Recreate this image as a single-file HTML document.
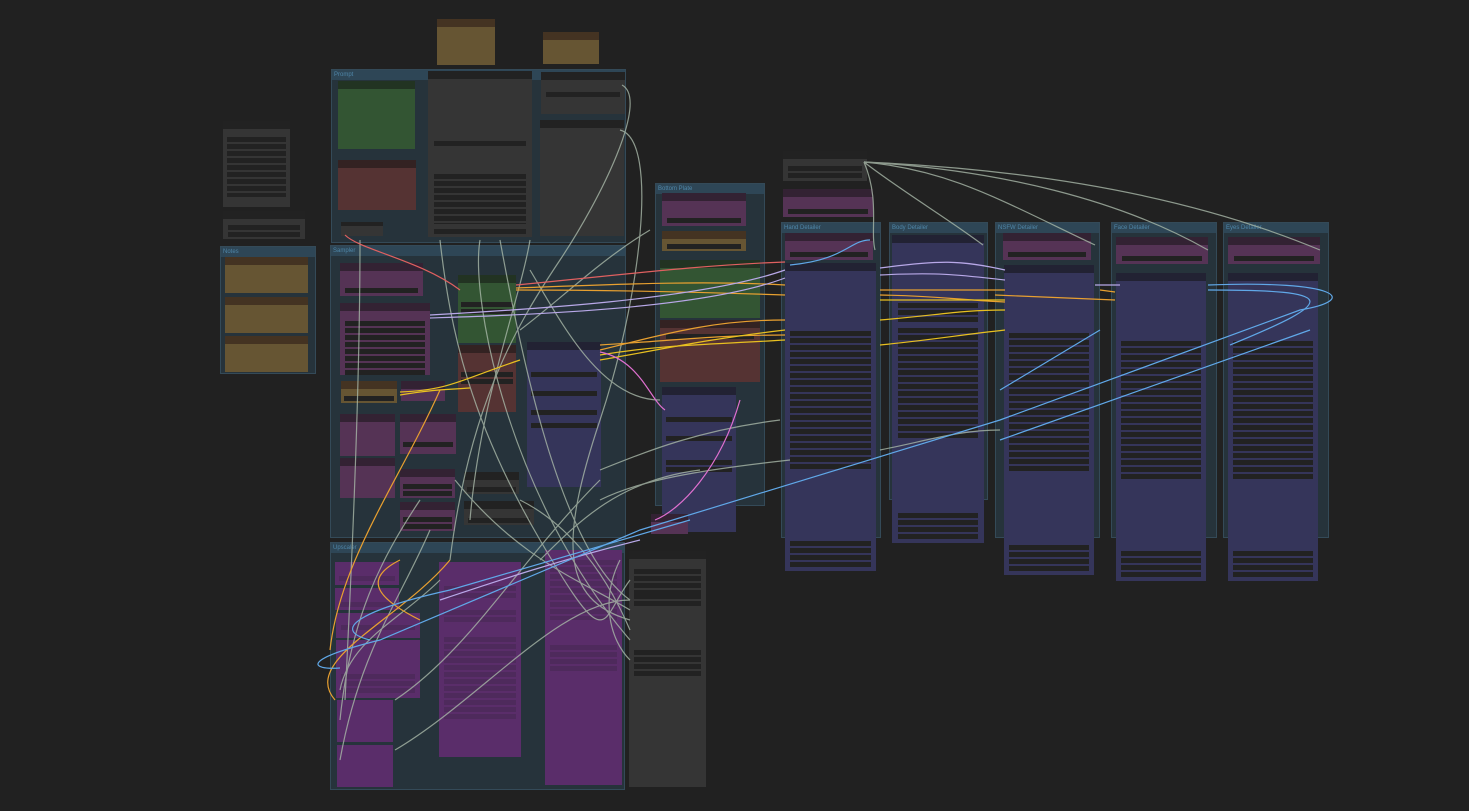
<!DOCTYPE html>
<html><head><meta charset="utf-8"><style>
body{margin:0;width:1469px;height:811px;background:#212121;overflow:hidden;position:relative;font-family:"Liberation Sans",sans-serif}
.g{position:absolute;background:#26333b;border:1px solid #344a58;box-sizing:border-box}
.g>span{display:block;height:10px;background:#2e4656;color:#4f86a8;font-size:6px;line-height:10px;padding-left:2px}
.n{position:absolute;box-sizing:border-box;border-top:8px solid rgba(0,0,0,.35)}
.d{background:#353535}.gr{background:#335533;border-top-color:#223322}.r{background:#553333;border-top-color:#332222}
.p{background:#553355;border-top-color:#332233}.b{background:#35355a;border-top-color:#222233}.y{background:#665533;border-top-color:#443322}
.u{background:#5a2d6a;border-top-width:0}
.w{position:absolute;left:6%;right:6%;height:5px;background:#222}
.rows{position:absolute;left:6%;right:6%;background:repeating-linear-gradient(#222 0 5px,transparent 5px 7px)}
.ur{position:absolute;left:6%;right:6%;background:repeating-linear-gradient(#4e2a5c 0 5px,transparent 5px 7px)}
svg{position:absolute;left:0;top:0}
</style></head><body>

<div class="n y" style="left:437px;top:19px;width:58px;height:46px"></div>
<div class="n y" style="left:543px;top:32px;width:56px;height:32px"></div>
<div class="n d" style="left:223px;top:121px;width:67px;height:86px"><div class="rows" style="top:8px;height:60px"></div></div>
<div class="n d" style="left:223px;top:211px;width:82px;height:28px"><div class="rows" style="top:6px;height:12px"></div></div>

<div class="g" style="left:220px;top:246px;width:96px;height:128px"><span>Notes</span></div>
<div class="n y" style="left:225px;top:257px;width:83px;height:36px"></div>
<div class="n y" style="left:225px;top:297px;width:83px;height:36px"></div>
<div class="n y" style="left:225px;top:336px;width:83px;height:36px"></div>

<div class="g" style="left:331px;top:69px;width:295px;height:174px"><span>Prompt</span></div>
<div class="n gr" style="left:338px;top:81px;width:77px;height:68px"></div>
<div class="n r" style="left:338px;top:160px;width:78px;height:50px"></div>
<div class="n d" style="left:428px;top:71px;width:104px;height:166px"><div class="w" style="top:62px"></div><div class="rows" style="top:95px;height:50px"></div><div class="w" style="top:150px"></div></div>
<div class="n d" style="left:541px;top:72px;width:84px;height:42px"><div class="w" style="top:12px"></div></div>
<div class="n d" style="left:540px;top:120px;width:84px;height:116px"></div>
<div class="n d" style="left:341px;top:222px;width:42px;height:14px;border-top-width:4px"></div>

<div class="g" style="left:330px;top:245px;width:296px;height:293px"><span>Sampler</span></div>
<div class="n p" style="left:340px;top:263px;width:83px;height:33px"><div class="w" style="top:17px"></div></div>
<div class="n p" style="left:340px;top:303px;width:90px;height:72px"><div class="rows" style="top:10px;height:54px"></div></div>
<div class="n y" style="left:341px;top:381px;width:56px;height:22px"><div class="w" style="top:7px"></div></div>
<div class="n p" style="left:401px;top:381px;width:44px;height:20px"></div>
<div class="n p" style="left:340px;top:414px;width:55px;height:42px"></div>
<div class="n p" style="left:400px;top:414px;width:56px;height:40px"><div class="w" style="top:20px"></div></div>
<div class="n p" style="left:340px;top:458px;width:55px;height:40px"></div>
<div class="n p" style="left:400px;top:469px;width:55px;height:29px"><div class="rows" style="top:7px;height:12px"></div></div>
<div class="n p" style="left:400px;top:502px;width:55px;height:29px"><div class="rows" style="top:7px;height:12px"></div></div>
<div class="n gr" style="left:458px;top:275px;width:58px;height:68px"><div class="rows" style="top:19px;height:12px"></div></div>
<div class="n r" style="left:458px;top:345px;width:58px;height:67px"><div class="rows" style="top:19px;height:12px"></div></div>
<div class="n d" style="left:464px;top:472px;width:55px;height:22px"><div class="w" style="top:7px"></div></div>
<div class="n d" style="left:464px;top:501px;width:70px;height:24px"><div class="w" style="top:9px"></div></div>
<div class="n b" style="left:527px;top:342px;width:74px;height:145px"><div class="w" style="top:22px"></div><div class="w" style="top:41px"></div><div class="w" style="top:60px"></div><div class="w" style="top:73px"></div></div>

<div class="g" style="left:655px;top:183px;width:110px;height:323px"><span>Bottom Plate</span></div>
<div class="n p" style="left:662px;top:193px;width:84px;height:33px"><div class="w" style="top:17px"></div></div>
<div class="n y" style="left:662px;top:231px;width:84px;height:20px"><div class="w" style="top:5px"></div></div>
<div class="n gr" style="left:660px;top:260px;width:100px;height:58px"></div>
<div class="n r" style="left:660px;top:320px;width:100px;height:62px"><div class="w" style="top:6px"></div></div>
<div class="n b" style="left:662px;top:387px;width:74px;height:145px"><div class="w" style="top:22px"></div><div class="w" style="top:41px"></div><div class="rows" style="top:65px;height:12px"></div></div>
<div class="n p" style="left:651px;top:514px;width:37px;height:20px"></div>

<div class="g" style="left:330px;top:542px;width:295px;height:248px"><span>Upscaler</span></div>
<div class="n u" style="left:335px;top:562px;width:64px;height:23px"><div class="ur" style="top:14px;height:5px"></div></div>
<div class="n u" style="left:335px;top:588px;width:64px;height:22px"><div class="ur" style="top:14px;height:5px"></div></div>
<div class="n u" style="left:336px;top:613px;width:84px;height:25px"><div class="ur" style="top:12px;height:5px"></div></div>
<div class="n u" style="left:336px;top:640px;width:84px;height:58px"><div class="ur" style="top:34px;height:19px"></div></div>
<div class="n u" style="left:337px;top:700px;width:56px;height:42px"></div>
<div class="n u" style="left:337px;top:745px;width:56px;height:42px"></div>
<div class="n u" style="left:439px;top:562px;width:82px;height:195px"><div class="ur" style="top:24px;height:12px"></div><div class="ur" style="top:48px;height:12px"></div><div class="ur" style="top:75px;height:82px"></div></div>
<div class="n u" style="left:545px;top:550px;width:77px;height:235px"><div class="ur" style="top:10px;height:60px"></div><div class="ur" style="top:95px;height:26px"></div></div>
<div class="n d" style="left:629px;top:551px;width:77px;height:236px"><div class="rows" style="top:10px;height:26px"></div><div class="rows" style="top:35px;height:12px"></div><div class="rows" style="top:91px;height:26px"></div></div>

<div class="n d" style="left:783px;top:151px;width:84px;height:30px"><div class="rows" style="top:7px;height:12px"></div></div>
<div class="n p" style="left:783px;top:189px;width:90px;height:28px"><div class="w" style="top:12px"></div></div>

<div class="g" style="left:781px;top:222px;width:100px;height:316px"><span>Hand Detailer</span></div>
<div class="g" style="left:889px;top:222px;width:99px;height:278px"><span>Body Detailer</span></div>
<div class="g" style="left:995px;top:222px;width:105px;height:316px"><span>NSFW Detailer</span></div>
<div class="g" style="left:1111px;top:222px;width:106px;height:316px"><span>Face Detailer</span></div>
<div class="g" style="left:1223px;top:222px;width:106px;height:316px"><span>Eyes Detailer</span></div>

<div class="n p" style="left:785px;top:233px;width:88px;height:27px"><div class="w" style="top:11px"></div></div>
<div class="n b" style="left:785px;top:263px;width:91px;height:308px"><div class="rows" style="top:60px;height:26px"></div><div class="rows" style="top:88px;height:110px"></div><div class="rows" style="top:270px;height:26px"></div></div>
<div class="n b" style="left:892px;top:235px;width:92px;height:308px"><div class="rows" style="top:60px;height:20px"></div><div class="rows" style="top:85px;height:110px"></div><div class="rows" style="top:270px;height:26px"></div></div>
<div class="n p" style="left:1003px;top:233px;width:88px;height:27px"><div class="w" style="top:11px"></div></div>
<div class="n b" style="left:1004px;top:265px;width:90px;height:310px"><div class="rows" style="top:60px;height:26px"></div><div class="rows" style="top:88px;height:110px"></div><div class="rows" style="top:272px;height:26px"></div></div>
<div class="n p" style="left:1116px;top:237px;width:92px;height:27px"><div class="w" style="top:11px"></div></div>
<div class="n b" style="left:1116px;top:273px;width:90px;height:308px"><div class="rows" style="top:60px;height:26px"></div><div class="rows" style="top:88px;height:110px"></div><div class="rows" style="top:270px;height:26px"></div></div>
<div class="n p" style="left:1228px;top:237px;width:92px;height:27px"><div class="w" style="top:11px"></div></div>
<div class="n b" style="left:1228px;top:273px;width:90px;height:308px"><div class="rows" style="top:60px;height:26px"></div><div class="rows" style="top:88px;height:110px"></div><div class="rows" style="top:270px;height:26px"></div></div>

<svg width="1469" height="811" fill="none" stroke-width="1.2">
<g stroke="#a8b8a8" opacity=".8">
<path d="M864 162 C950 170 1000 200 1095 245"/><path d="M864 162 C1000 170 1120 200 1208 250"/><path d="M864 162 C1050 170 1200 200 1320 250"/><path d="M864 162 C900 190 950 220 983 245"/><path d="M864 162 C880 200 870 230 875 250"/>
<path d="M622 85 C650 100 600 200 560 260 S470 400 450 560"/><path d="M620 130 C660 140 640 300 600 420 S560 600 630 620"/>
<path d="M480 240 C470 300 510 500 630 640"/><path d="M500 240 C520 350 560 550 630 600"/><path d="M360 240 C360 400 350 600 345 700"/>
<path d="M520 500 C560 520 600 560 630 630"/><path d="M455 480 C520 560 580 580 630 610"/><path d="M395 750 C480 700 560 600 630 600"/>
<path d="M395 700 C470 650 520 560 600 480"/><path d="M540 560 C580 520 620 480 700 470"/><path d="M600 470 C650 450 700 430 780 420"/>
<path d="M430 530 C400 600 360 650 340 760"/><path d="M530 270 C560 320 600 400 660 400"/>
<path d="M440 240 C450 330 470 420 540 540 S600 620 630 580"/><path d="M530 240 C520 300 480 400 470 520"/>
<path d="M420 500 C380 560 350 620 340 720"/><path d="M440 580 C400 620 350 640 340 690"/>
<path d="M520 330 C560 300 600 260 650 230"/><path d="M600 500 C640 480 700 470 790 460"/>
<path d="M880 450 C930 440 960 430 1000 430"/><path d="M620 560 C600 600 610 640 630 660"/>
</g>
<g stroke="#e8a030"><path d="M516 288 C600 285 700 280 785 285"/><path d="M516 290 C600 290 700 292 785 295"/><path d="M600 350 C680 330 720 320 785 320"/><path d="M880 290 C940 290 960 290 1005 290"/><path d="M995 295 L1115 300"/><path d="M450 560 C400 620 300 660 335 700"/><path d="M440 390 C400 480 340 560 330 650"/>
<path d="M880 295 C940 296 960 300 1005 302"/><path d="M1100 290 L1115 292"/><path d="M600 345 C680 340 720 335 785 335"/><path d="M420 620 C380 600 360 580 400 560"/></g>
<g stroke="#e8c020"><path d="M400 392 C450 390 460 380 520 360"/><path d="M600 360 C660 350 700 340 785 330"/><path d="M880 300 C940 300 960 300 1005 300"/><path d="M400 395 C430 390 440 390 470 388"/>
<path d="M880 320 C940 315 960 310 1005 310"/><path d="M600 355 C660 345 700 345 785 340"/><path d="M880 345 C930 340 960 335 1005 330"/></g>
<g stroke="#b8a8e8"><path d="M430 315 C520 310 700 300 785 270"/><path d="M430 318 C520 315 700 310 785 278"/><path d="M880 268 C940 260 960 260 1005 270"/><path d="M440 600 C500 580 560 560 640 540"/>
<path d="M1095 285 L1120 285"/><path d="M880 275 C940 272 960 275 1005 280"/></g>
<g stroke="#60a8e8"><path d="M1208 285 C1340 280 1360 300 1300 310 L1000 420 L640 530 L380 640 C300 660 310 670 340 668"/><path d="M1310 330 L1000 440"/><path d="M690 520 L450 590 C360 610 330 630 370 640"/><path d="M870 240 C850 240 845 260 790 265"/>
<path d="M1208 290 C1340 290 1340 300 1230 345"/><path d="M1100 330 L1000 390"/></g>
<g stroke="#e070d0"><path d="M600 352 C640 360 650 400 665 410"/><path d="M740 400 C720 470 680 510 655 520"/></g>
<g stroke="#e06060"><path d="M345 235 C360 250 420 260 460 290"/><path d="M516 285 C620 275 700 265 785 262"/></g>
</svg>
</body></html>
